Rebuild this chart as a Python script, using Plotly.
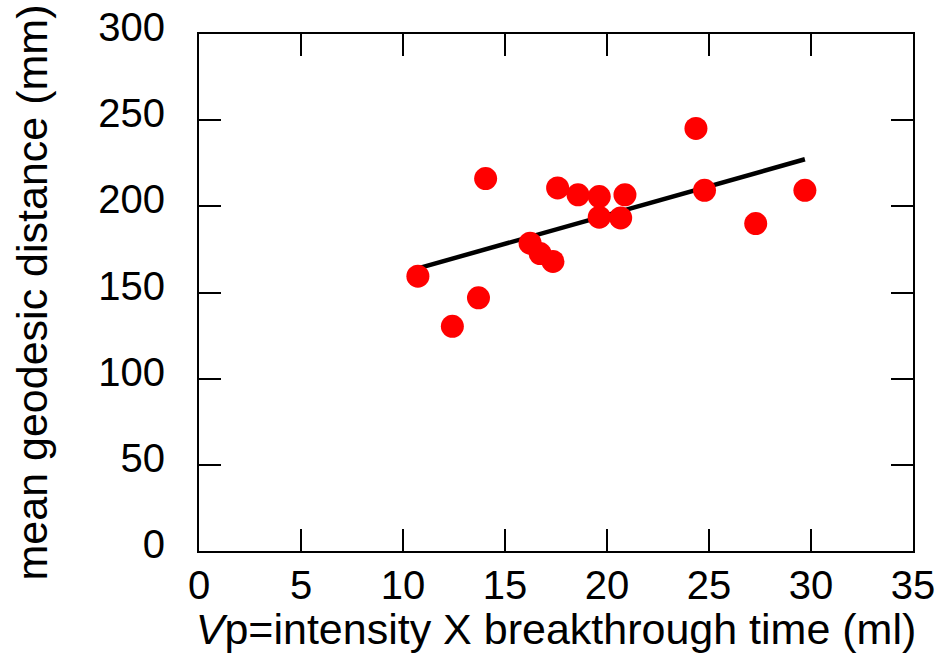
import plotly.graph_objects as go

# Data
vp_ml = [10.73, 12.42, 13.70, 14.05, 16.23, 16.72, 17.35, 17.58, 18.58,
         19.62, 19.62, 20.88, 20.67, 24.36, 24.78, 27.29, 29.70]
geodesic_mm = [159.5, 130.4, 146.9, 216.1, 178.6, 172.6, 168.0, 210.7, 206.7,
               205.7, 193.7, 206.7, 193.3, 245.2, 209.3, 190.0, 209.3]

# Fitted line end points
fit_x = [10.73, 29.70]
fit_y = [164.0, 227.3]

x_ticks = [0, 5, 10, 15, 20, 25, 30, 35]
y_ticks = [0, 50, 100, 150, 200, 250, 300]

FONT = "Liberation Sans, Arial, sans-serif"

W, H = 940, 653
M_L, M_R, M_B = 199, 27, 102
PLOT_TOP = 34
LABEL_SHIFT = 7  # y tick labels sit slightly above their ticks in the reference
M_T = PLOT_TOP - LABEL_SHIFT
AREA_H = H - M_T - M_B
PLOT_H = H - PLOT_TOP - M_B

fig = go.Figure()
# invisible helper trace so the label axis is drawn (added first, drawn below)
fig.add_trace(go.Scatter(
    x=vp_ml[:1], y=geodesic_mm[:1], yaxis="y2", mode="markers",
    marker=dict(opacity=0), showlegend=False, hoverinfo="skip",
))
fig.add_trace(go.Scatter(
    x=fit_x, y=fit_y, mode="lines",
    line=dict(color="black", width=4.5),
    showlegend=False, hoverinfo="skip",
))
fig.add_trace(go.Scatter(
    x=vp_ml, y=geodesic_mm, mode="markers",
    marker=dict(color="#ff0000", size=23, line=dict(width=0)),
    showlegend=False,
))

fig.update_layout(
    xaxis=dict(
        range=[0, 35], tickvals=x_ticks, ticktext=[str(v) for v in x_ticks],
        domain=[0, 1], anchor="y",
        showgrid=False, zeroline=False, automargin=False,
        showline=True, linecolor="black", linewidth=1.5,
        mirror="ticks", ticks="inside", ticklen=22, tickwidth=1.5,
        tickcolor="black", ticklabelstandoff=-2,
        tickfont=dict(family=FONT, size=40, color="black"),
        title=dict(text="<i>V</i>p=intensity X breakthrough time (ml)",
                   font=dict(family=FONT, size=43, color="black"), standoff=0),
    ),
    yaxis=dict(
        range=[0, 300], tickvals=y_ticks, showticklabels=False,
        domain=[0, PLOT_H / AREA_H], anchor="x",
        showgrid=False, zeroline=False, automargin=False,
        showline=True, linecolor="black", linewidth=1.5,
        mirror="ticks", ticks="inside", ticklen=22, tickwidth=1.5,
        tickcolor="black",
        title=dict(text="mean geodesic distance (mm)",
                   font=dict(family=FONT, size=43, color="black"), standoff=136),
    ),
    yaxis2=dict(
        range=[0, 300], tickvals=y_ticks, ticktext=[str(v) for v in y_ticks],
        domain=[LABEL_SHIFT / AREA_H, 1], anchor="free", position=0,
        side="left", showgrid=False, zeroline=False, automargin=False,
        showline=False, ticks="", ticklabelstandoff=34,
        tickfont=dict(family=FONT, size=40, color="black"),
    ),
    width=W, height=H,
    margin=dict(l=M_L, r=M_R, t=M_T, b=M_B),
    plot_bgcolor="rgba(0,0,0,0)", paper_bgcolor="white",
    font=dict(family=FONT, color="black"),
)

fig.write_html("out.html", post_script="document.body.style.margin='0';",
               config={"displayModeBar": False})
